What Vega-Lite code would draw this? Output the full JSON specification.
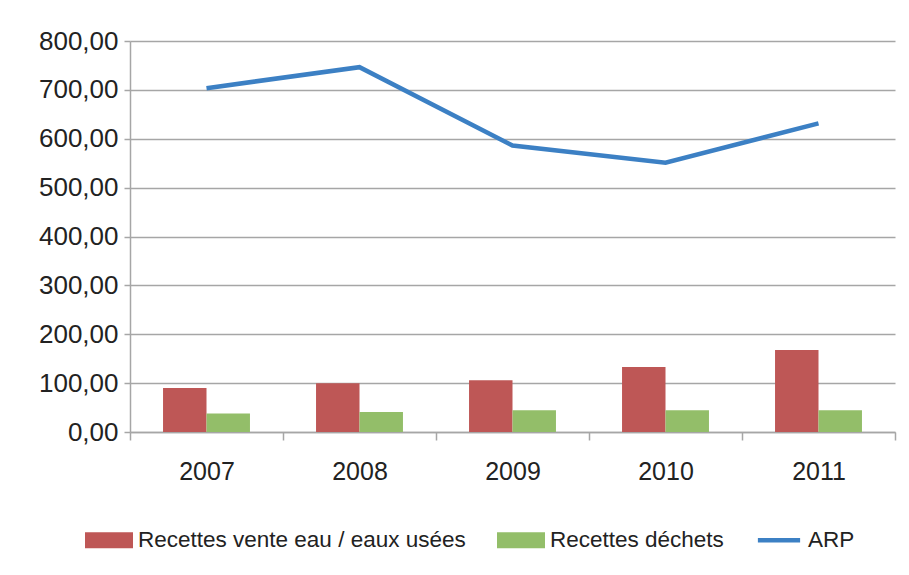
{
  "$schema": "https://vega.github.io/schema/vega-lite/v6.json",
  "width": 765,
  "height": 391,
  "autosize": {"type": "none"},
  "padding": {"left": 130, "top": 41, "right": 14, "bottom": 143},
  "background": "white",
  "config": {
    "font": "Liberation Sans",
    "view": {"stroke": null}
  },
  "data": {
    "values": [
      {"year": "2007", "series": "Recettes vente eau / eaux usées", "value": 90},
      {"year": "2008", "series": "Recettes vente eau / eaux usées", "value": 100},
      {"year": "2009", "series": "Recettes vente eau / eaux usées", "value": 106},
      {"year": "2010", "series": "Recettes vente eau / eaux usées", "value": 133},
      {"year": "2011", "series": "Recettes vente eau / eaux usées", "value": 168},
      {"year": "2007", "series": "Recettes déchets", "value": 38},
      {"year": "2008", "series": "Recettes déchets", "value": 41},
      {"year": "2009", "series": "Recettes déchets", "value": 44.5},
      {"year": "2010", "series": "Recettes déchets", "value": 44.5},
      {"year": "2011", "series": "Recettes déchets", "value": 44.5},
      {"year": "2007", "series": "ARP", "value": 703.5},
      {"year": "2008", "series": "ARP", "value": 746.5},
      {"year": "2009", "series": "ARP", "value": 586},
      {"year": "2010", "series": "ARP", "value": 551},
      {"year": "2011", "series": "ARP", "value": 631.5}
    ]
  },
  "encoding": {
    "x": {
      "field": "year",
      "type": "nominal",
      "scale": {"paddingInner": 0, "paddingOuter": 0},
      "axis": {
        "title": null,
        "labelAngle": 0,
        "labelFontSize": 25,
        "labelColor": "#222222",
        "labelPadding": 19,
        "tickBand": "extent",
        "tickSize": 8,
        "tickColor": "#a6a6a6",
        "tickWidth": 1.5,
        "domainColor": "#a6a6a6",
        "domainWidth": 1.5,
        "grid": false
      }
    },
    "y": {
      "field": "value",
      "type": "quantitative",
      "scale": {"domain": [0, 800], "nice": false},
      "axis": {
        "title": null,
        "values": [0, 100, 200, 300, 400, 500, 600, 700, 800],
        "labelExpr": "replace(format(datum.value, '.2f'), '.', ',')",
        "labelFontSize": 26,
        "labelColor": "#222222",
        "labelPadding": 6,
        "tickSize": 6,
        "tickColor": "#a6a6a6",
        "tickWidth": 1.5,
        "domainColor": "#a6a6a6",
        "domainWidth": 1.5,
        "grid": true,
        "gridColor": "#a6a6a6",
        "gridWidth": 1.5
      }
    },
    "color": {
      "field": "series",
      "type": "nominal",
      "scale": {
        "domain": ["Recettes vente eau / eaux usées", "Recettes déchets", "ARP"],
        "range": ["#BE5756", "#93BE69", "#3C80C4"]
      },
      "legend": {
        "title": null,
        "orient": "none",
        "direction": "horizontal",
        "legendX": -45,
        "legendY": 475,
        "labelFontSize": 22.5,
        "labelColor": "#222222",
        "labelOffset": 5,
        "labelLimit": 0,
        "columnPadding": 31,
        "symbolSize": 2304,
        "symbolStrokeWidth": 0,
        "padding": 0,
        "encode": {
          "symbols": {
            "update": {
              "shape": {"signal": "datum.value === 'ARP' ? 'M-0.88,-0.09H0.88V0.09H-0.88Z' : 'M-1,-0.33H1V0.33H-1Z'"},
              "fill": {"scale": "color", "field": "value"},
              "stroke": {"value": "transparent"},
              "opacity": {"value": 1}
            }
          }
        }
      }
    }
  },
  "layer": [
    {
      "transform": [{"filter": "datum.series !== 'ARP'"}],
      "mark": {"type": "bar"},
      "encoding": {
        "xOffset": {
          "field": "series",
          "type": "nominal",
          "sort": ["Recettes vente eau / eaux usées", "Recettes déchets"],
          "scale": {"paddingInner": 0, "paddingOuter": 0.76}
        }
      }
    },
    {
      "transform": [{"filter": "datum.series === 'ARP'"}],
      "mark": {"type": "line", "strokeWidth": 4.5}
    }
  ]
}
